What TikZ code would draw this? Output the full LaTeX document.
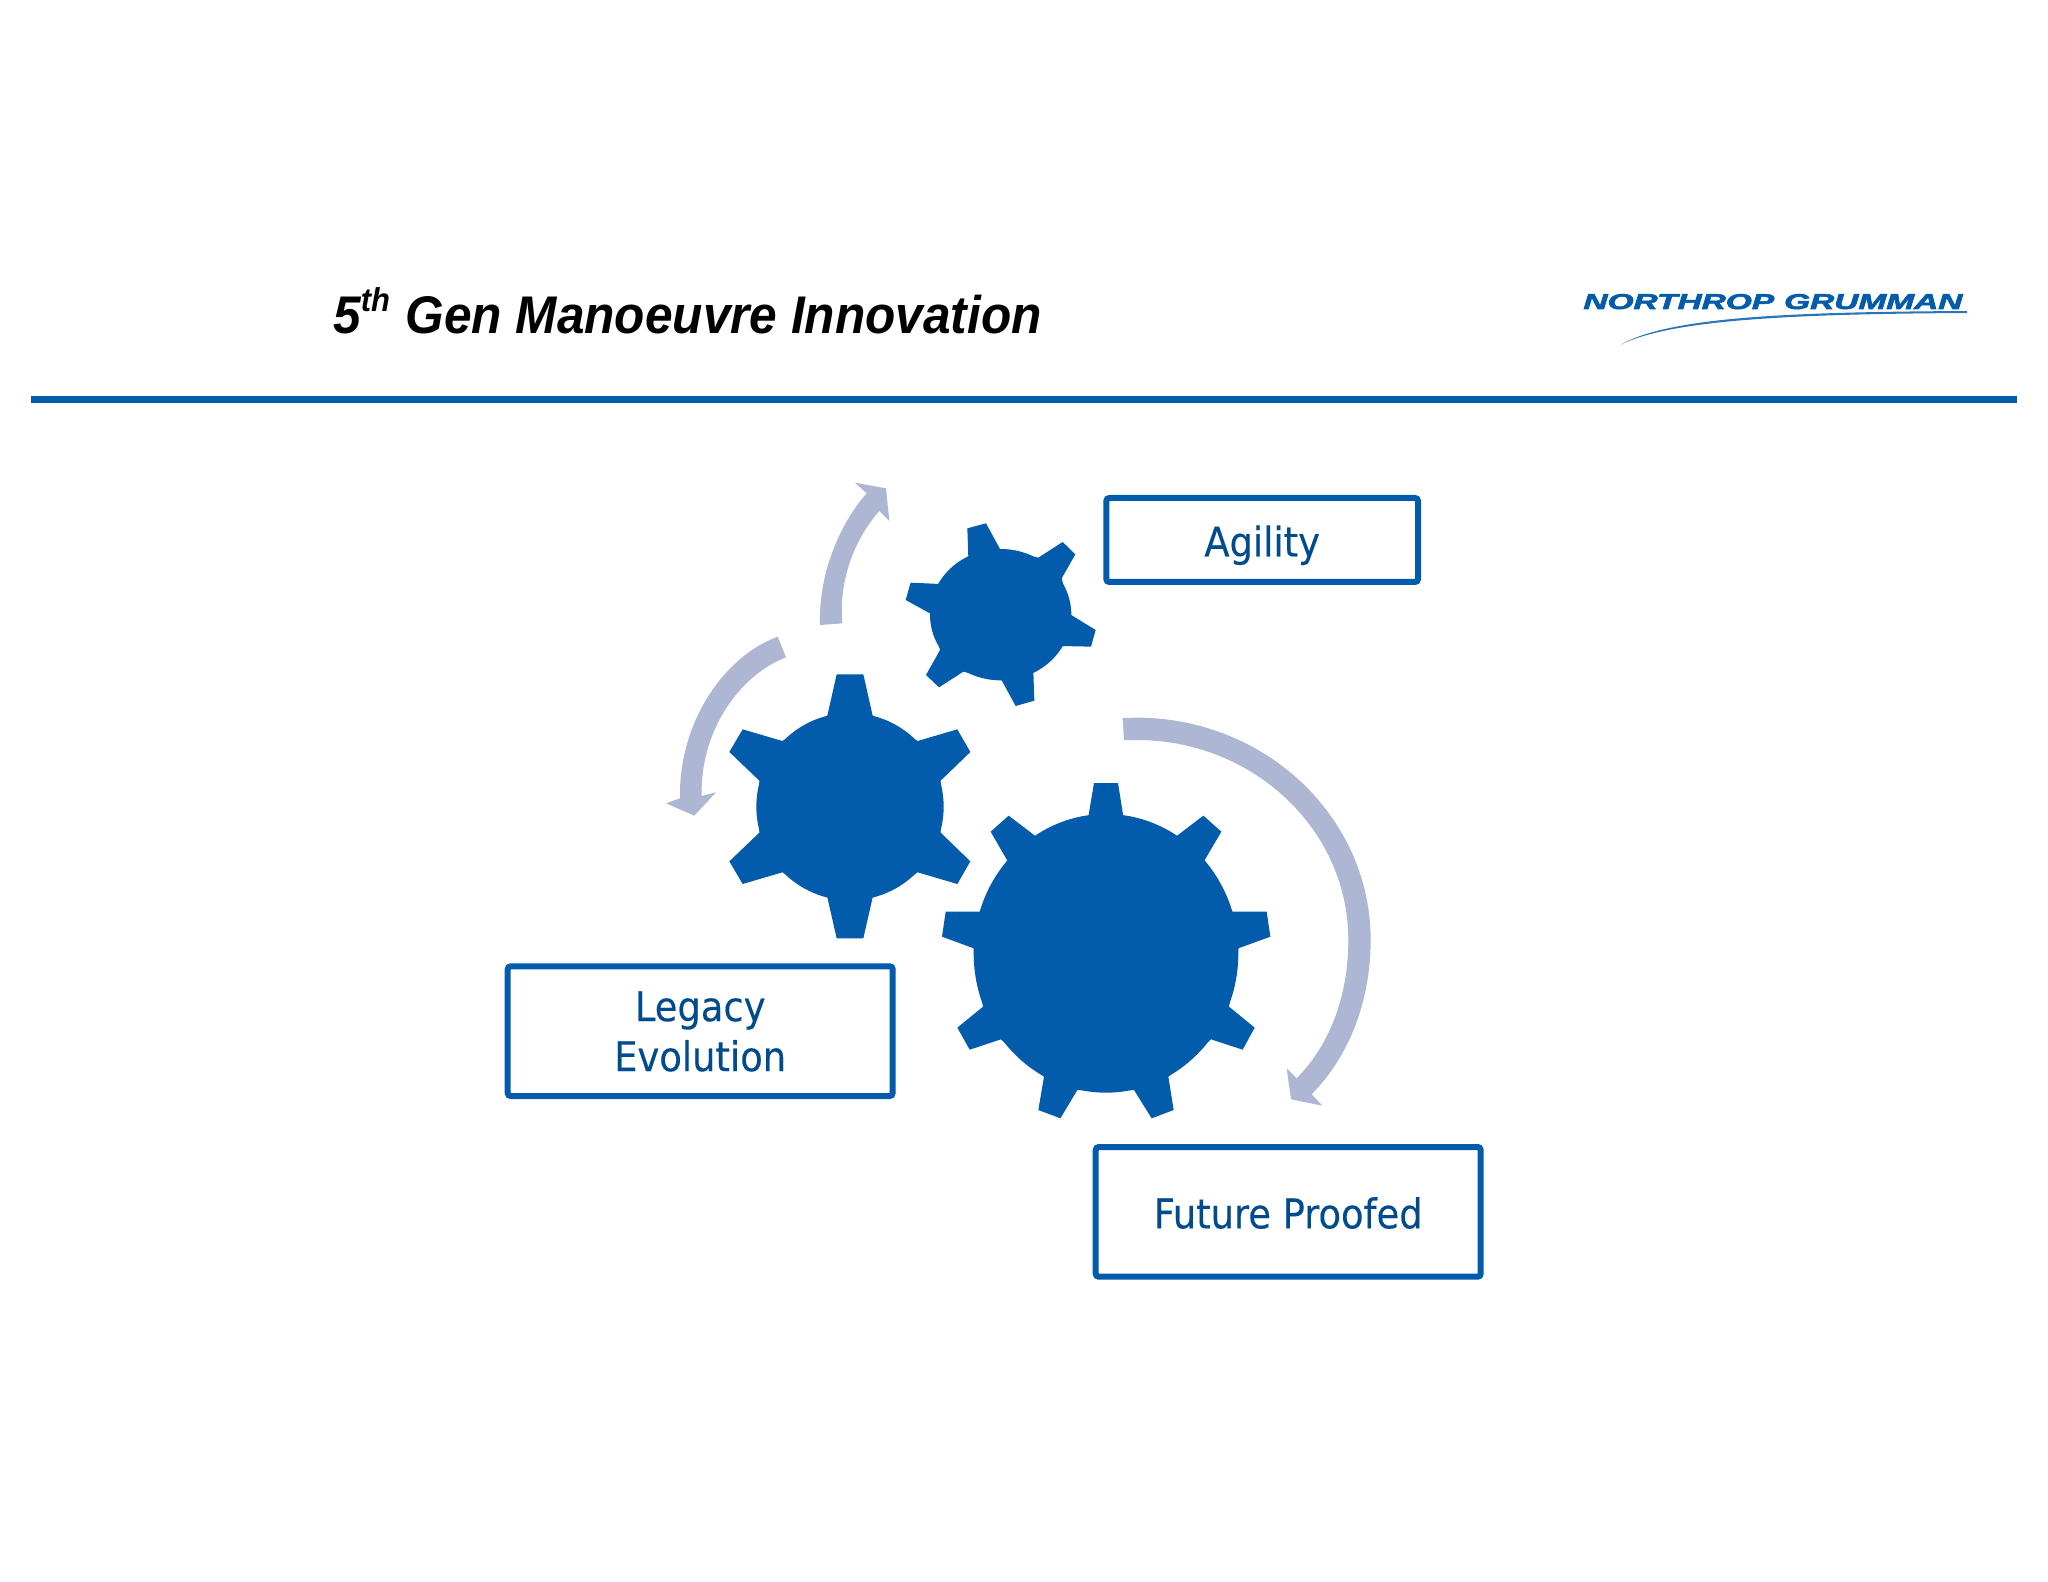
\documentclass[tikz,border=0pt]{standalone}
\usepackage{fontspec}
\usepackage{graphicx}
\setmainfont{Liberation Sans}
\newfontfamily\boxfont[FakeBold=0.25]{DejaVu Sans Condensed}
\newfontfamily\logofont[BoldItalicFeatures={FakeBold=2.5}]{Liberation Sans}
\definecolor{gearblue}{HTML}{035CAB}
\definecolor{boxtext}{HTML}{004B8D}
\definecolor{arrowblue}{HTML}{ADB7D3}
\tikzset{
  gearshape/.style={fill=gearblue,draw=none},
  swept/.style={fill=arrowblue,draw=none},
  labelbox/.style={draw=gearblue,line width=3pt,rounded corners=1.5pt,fill=white,
    text=boxtext,inner sep=0pt,
    font=\boxfont\fontsize{20.5}{25}\selectfont,text height=16.5pt,text depth=0pt},
  zoomA/.style={shift={(650,460)},scale=0.33333},
  zoomB/.style={shift={(920,700)},scale=0.33333}
}
\begin{document}
\begin{tikzpicture}[x=0.5pt,y=-0.5pt]
\useasboundingbox (0,0) rectangle (2048,1582);
% header
\node[anchor=base west,inner sep=0pt,font=\bfseries\itshape\fontsize{26.5}{32}\selectfont] (title) at (333,333.5)
  {\scalebox{0.935}[1]{5\raisebox{0.42em}{\fontsize{16.5}{20}\selectfont th}\hspace{1pt} Gen Manoeuvre Innovation}};
\coordinate (ruleL) at (31,400);
\coordinate (ruleR) at (2017,400);
\draw[gearblue,line width=3.5pt] (ruleL) -- (ruleR);
% logo
\node[anchor=base west,inner sep=0pt,text=gearblue,font=\logofont\bfseries\itshape] (logo) at (1583,309)
  {\resizebox{189.5pt}{7.5pt}{NORTHROP\hspace{0.3em}GRUMMAN}};
\fill[gearblue!85] (1621,344.6) .. controls (1670,316) and (1800,312) .. (1967,311)
  -- (1967,313) .. controls (1800,314) and (1672,319) .. (1621,344.6) -- cycle;
% gears and arrows in first crop frame
\begin{scope}[zoomA]
  \fill[gearshape] (600,1040) circle (281);
  \fill[gearshape] (532,767)--(560,643)--(640,643)--(668,767)--(803,843)--(922,808)--(961,876)--(872,962)
    --(872,1118)--(961,1204)--(922,1272)--(803,1237)--(668,1312)--(640,1435)--(560,1435)--(532,1312)
    --(397,1237)--(278,1272)--(238,1204)--(328,1118)--(328,962)--(238,876)--(278,808)--(397,843)--cycle;
  \fill[gearshape] (1052,464) ellipse [x radius=212,y radius=197];
  \fill[gearshape] (955,293)--(952,205)--(1008,190)--(1050,267)--(1165,293)--(1238,246)--(1276,283)--(1235,355)
    --(1262,464)--(1337,510)--(1323,560)--(1232,558)--(1150,635)--(1153,722)--(1097,738)--(1055,661)
    --(940,635)--(867,682)--(828,645)--(870,570)--(843,462)--(767,420)--(782,368)--(870,372)--cycle;
  \fill[swept] (510,495) .. controls (505,340) and (570,190) .. (650,100) -- (615,68) -- (708,85) -- (718,183) -- (688,153)
    .. controls (615,235) and (565,360) .. (577,490) -- cycle;
  \fill[swept] (383,530) .. controls (220,590) and (85,790) .. (90,1015) -- (48,1030) -- (133,1067) -- (198,997) -- (155,1008)
    .. controls (150,800) and (280,640) .. (408,592) -- cycle;
\end{scope}
\begin{scope}[zoomB]
  \fill[gearshape] (558,760) ellipse [x radius=397,y radius=418];
  \fill[gearshape] (505,350)--(522,249)--(594,249)--(610,350)--(770,408)--(850,347)--(904,395)--(853,482)
    --(937,635)--(1040,635)--(1051,710)--(955,745)--(927,920)--(1004,983)--(968,1049)--(873,1018)
    --(745,1130)--(761,1230)--(695,1255)--(642,1170)--(472,1170)--(421,1255)--(355,1230)--(372,1130)
    --(243,1018)--(149,1049)--(112,983)--(189,920)--(161,745)--(66,710)--(77,635)--(180,635)
    --(262,482)--(212,395)--(266,347)--(346,408)--cycle;
  \fill[swept] (608,54) -- (650,53) .. controls (1037,53) and (1352,352) .. (1352,720)
     .. controls (1352,889) and (1296,1060) .. (1175,1183) -- (1207,1217) -- (1113,1198) -- (1100,1105) -- (1130,1135)
     .. controls (1239,1024) and (1285,872) .. (1285,720)
     .. controls (1285,389) and (1000,120) .. (650,120) -- (612,120) -- cycle;
\end{scope}
% labels
\node[labelbox,minimum width=155.85pt,minimum height=42pt] (agility) at (1262.15,540) {Agility};
\node[labelbox,minimum width=192.5pt,minimum height=64.85pt,text height=15pt,text depth=25pt] (legacy) at (700.2,1031.15)
  {\begin{tabular}[t]{@{}c@{}}Legacy\\Evolution\end{tabular}};
\node[labelbox,minimum width=192.5pt,minimum height=64.85pt] (future) at (1288.2,1211.85) {Future Proofed};
\end{tikzpicture}
\end{document}
